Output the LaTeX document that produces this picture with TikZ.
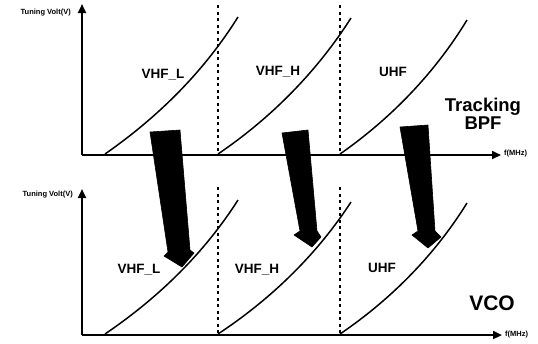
\documentclass[tikz,border=0pt]{standalone}
\usepackage{fontspec}
\setmainfont{Liberation Sans}
\usetikzlibrary{arrows.meta}
\begin{document}
\begin{tikzpicture}[x=1pt,y=-1pt,
  axis/.style={line width=2.2pt,-{Triangle[length=9pt,width=8pt]}},
  curve/.style={line width=1.5pt},
  divider/.style={line width=1.5pt,dash pattern=on 3pt off 3.5pt},
  bigarrow/.style={fill=black,draw=black,line width=0.6pt,line join=round},
  band/.style={font=\fontsize{13.5}{14}\selectfont\bfseries,inner sep=0pt},
  title/.style={font=\fontsize{18.5}{20}\selectfont\bfseries,inner sep=0pt,align=center},
  small/.style={font=\fontsize{7.5}{8}\selectfont\bfseries,inner sep=0pt}]
\useasboundingbox (0,0) rectangle (538,343);
% ---------- top graph ----------
\coordinate (to) at (82,155);
\coordinate (tyend) at (82,4);
\coordinate (txend) at (501,155);
\draw[axis] (to) -- (tyend);
\draw[axis] (to) -- (txend);
\node[small,anchor=east] (tyl) at (71,13) {Tuning Volt(V)};
\node[small,anchor=west] (txl) at (504,154) {f(MHz)};
\coordinate (td1a) at (218,5);  \coordinate (td1b) at (218,154);
\coordinate (td2a) at (340,5);  \coordinate (td2b) at (340,154);
\draw[divider] (td1a) -- (td1b);
\draw[divider] (td2a) -- (td2b);
\coordinate (tc1) at (105,154);
\coordinate (tc2) at (218,154);
\coordinate (tc3) at (340,154);
\draw[curve] (tc1) .. controls +(56,-39) and +(-32.5,52) .. +(133,-137);
\draw[curve] (tc2) .. controls +(56,-38) and +(-32.5,51) .. +(133,-136);
\draw[curve] (tc3) .. controls +(53,-37) and +(-31,51) .. +(127,-134);
\node[band] (tl1) at (163,75) {VHF\_L};
\node[band] (tl2) at (278,72) {VHF\_H};
\node[band] (tl3) at (393,72) {UHF};
\node[title] (ttitle) at (483,114) {Tracking\\[-2pt]BPF};
% ---------- bottom graph ----------
\coordinate (bo) at (82,335);
\coordinate (byend) at (82,189);
\coordinate (bxend) at (502,335);
\draw[axis] (bo) -- (byend);
\draw[axis] (bo) -- (bxend);
\node[small,anchor=east] (byl) at (73,195) {Tuning Volt(V)};
\node[small,anchor=west] (bxl) at (505,335) {f(MHz)};
\coordinate (bd1a) at (218,187);  \coordinate (bd1b) at (218,334);
\coordinate (bd2a) at (340,187);  \coordinate (bd2b) at (340,334);
\draw[divider] (bd1a) -- (bd1b);
\draw[divider] (bd2a) -- (bd2b);
\coordinate (bc1) at (105,334);
\coordinate (bc2) at (218,334);
\coordinate (bc3) at (340,334);
\draw[curve] (bc1) .. controls +(56,-38) and +(-32.5,51) .. +(133,-134);
\draw[curve] (bc2) .. controls +(56,-37) and +(-32.5,50) .. +(133,-132);
\draw[curve] (bc3) .. controls +(53,-36) and +(-31,50) .. +(127,-131);
\node[band] (bl1) at (139,270) {VHF\_L};
\node[band] (bl2) at (257,270) {VHF\_H};
\node[band] (bl3) at (382,268) {UHF};
\node[title,font=\fontsize{21}{22}\selectfont\bfseries] (btitle) at (492,303) {VCO};
% ---------- big arrows ----------
\draw[bigarrow] (150,132) -- (180,130) -- (190,250) -- (194,253) -- (182,267)
  -- (164,256) -- (168,252) -- cycle;
\draw[bigarrow] (282,133) -- (308,130) -- (317,231) -- (321,237) -- (312,247)
  -- (294,235) -- (300,231) -- cycle;
\draw[bigarrow] (400,127) -- (428,125) -- (435,231) -- (441,237) -- (428,248)
  -- (412,235) -- (418,231) -- cycle;
\end{tikzpicture}
\end{document}
